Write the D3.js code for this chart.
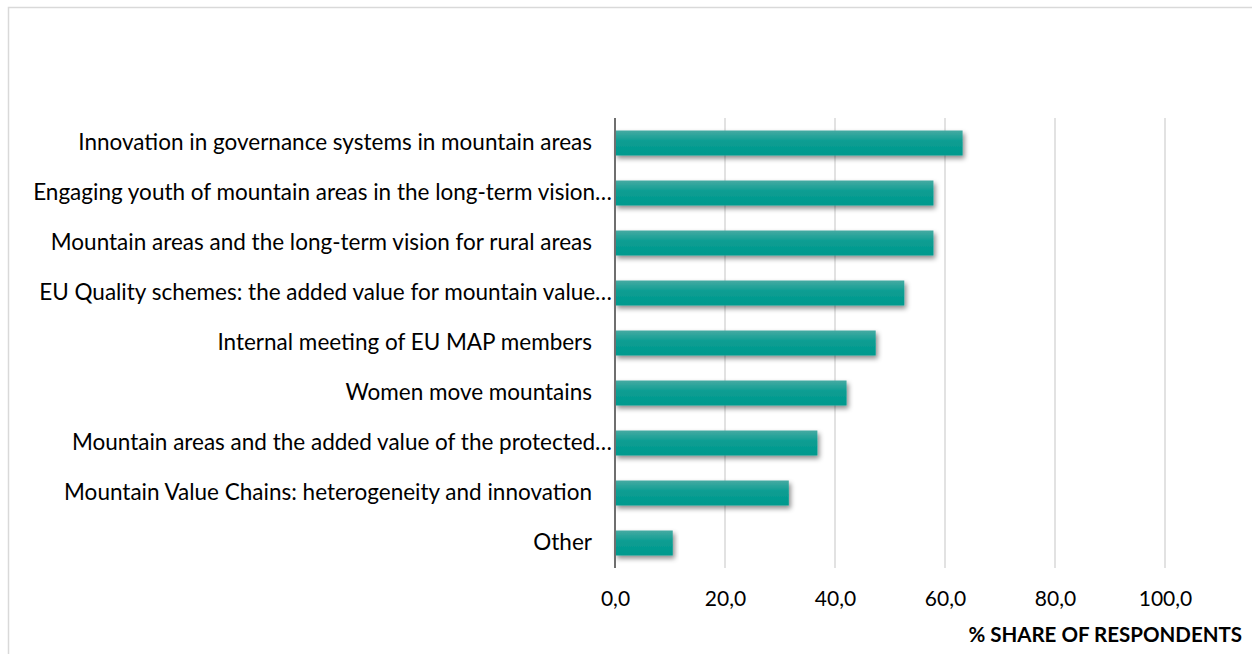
<!DOCTYPE html>
<html><head><meta charset="utf-8">
<script src="https://cdn.jsdelivr.net/npm/d3@7"></script>
<style>html,body{margin:0;padding:0;background:#fff;} svg{display:block;} text{font-family:Lato,"Open Sans",sans-serif;}</style>
</head><body>
<svg id="chart" width="1252" height="654"></svg>
<script>
const categories = [
  "Innovation in governance systems in mountain areas",
  "Engaging youth of mountain areas in the long-term vision…",
  "Mountain areas and the long-term vision for rural areas",
  "EU Quality schemes: the added value for mountain value…",
  "Internal meeting of EU MAP members",
  "Women move mountains",
  "Mountain areas and the added value of the protected…",
  "Mountain Value Chains: heterogeneity and innovation",
  "Other"
];
const values = [63.2, 57.9, 57.9, 52.6, 47.4, 42.1, 36.8, 31.6, 10.5];
const tickValues = [0, 20, 40, 60, 80, 100];
const axisTitle = "% SHARE OF RESPONDENTS";

const svg = d3.select("#chart");
const defs = svg.append("defs");
const grad = defs.append("linearGradient").attr("id","barGrad").attr("x1",0).attr("y1",0).attr("x2",0).attr("y2",1);
grad.append("stop").attr("offset","0%").attr("stop-color","#46aaa2");
grad.append("stop").attr("offset","45%").attr("stop-color","#0a9d92");
grad.append("stop").attr("offset","100%").attr("stop-color","#00998d");
const f = defs.append("filter").attr("id","shadow").attr("x","-5%").attr("y","-30%").attr("width","115%").attr("height","180%");
f.append("feDropShadow").attr("dx",2).attr("dy",3).attr("stdDeviation",2.5).attr("flood-color","#000").attr("flood-opacity",0.45);

// frame
svg.append("rect").attr("x",8.5).attr("y",7.5).attr("width",1260).attr("height",660)
  .attr("fill","none").attr("stroke","#d9d9d9").attr("stroke-width",1.5);

const x = d3.scaleLinear().domain([0,100]).range([615,1165]);
const y = d3.scaleBand().domain(categories).range([118,568]).paddingInner(0.5).paddingOuter(0.25);

// gridlines
svg.append("g").selectAll("line").data(tickValues.filter(d=>d>0)).join("line")
  .attr("x1",d=>x(d)).attr("x2",d=>x(d)).attr("y1",118).attr("y2",568)
  .attr("stroke","#d9d9d9").attr("stroke-width",1.5);

// bars
svg.append("g").selectAll("rect").data(values).join("rect")
  .attr("x",x(0)).attr("y",(d,i)=>y(categories[i]))
  .attr("width",d=>x(d)-x(0)).attr("height",y.bandwidth())
  .attr("fill","url(#barGrad)").attr("filter","url(#shadow)");

// axis line
svg.append("line").attr("x1",x(0)).attr("x2",x(0)).attr("y1",118).attr("y2",568)
  .attr("stroke","#6f6f6f").attr("stroke-width",2);

// x axis tick labels
const fmt = d => d.toFixed(1).replace(".", ",");
const xAxis = d3.axisBottom(x).tickValues(tickValues).tickFormat(fmt).tickSize(0).tickPadding(0);
const gx = svg.append("g").attr("transform","translate(0,591)").call(xAxis);
gx.select(".domain").remove();
gx.selectAll("text").attr("font-size",21).attr("fill","#000").attr("font-family","Lato,'Open Sans',sans-serif");

// category labels
const yAxis = d3.axisLeft(y).tickSize(0).tickPadding(0);
const gy = svg.append("g").attr("transform","translate(0,0)").call(yAxis);
gy.select(".domain").remove();
gy.selectAll(".tick text")
  .attr("x", d => d.endsWith("…") ? 612 : 592)
  .attr("font-size",22.5).attr("fill","#000").attr("font-family","Lato,'Open Sans',sans-serif");

// axis title
svg.append("text").attr("x",1242).attr("y",642).attr("text-anchor","end")
  .attr("font-size",20.5).attr("font-weight","bold").attr("fill","#000").text(axisTitle);
</script>
</body></html>
